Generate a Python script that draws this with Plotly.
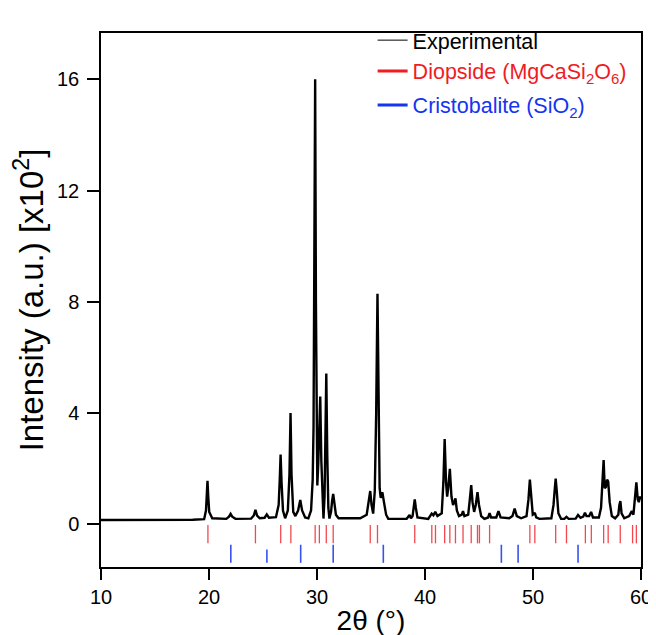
import plotly.graph_objects as go

# Experimental XRD pattern (2theta in degrees, intensity in x10^2 a.u.)
two_theta = [10.0, 14.0, 18.5, 19.55, 19.72, 19.8, 19.86, 19.93, 20.02, 20.3,
             21.6, 21.85, 22.0, 22.15, 22.45, 23.9, 24.15, 24.3, 24.45, 24.7,
             25.15, 25.35, 25.55, 26.2, 26.45, 26.55, 26.63, 26.72, 26.85, 27.05,
             27.3, 27.45, 27.55, 27.64, 27.8, 28.0, 28.25, 28.45, 28.62, 28.9,
             29.2, 29.45, 29.6, 29.68, 29.75, 29.83, 29.9, 29.97, 30.03, 30.12,
             30.22, 30.3, 30.4, 30.5, 30.6, 30.7, 30.78, 30.86, 30.95, 31.05,
             31.15, 31.3, 31.4, 31.5, 31.6, 31.75, 32.0, 34.0, 34.6, 34.8,
             34.93, 35.05, 35.2, 35.35, 35.48, 35.6, 35.7, 35.8, 35.9, 36.05,
             36.2, 36.4, 36.6, 38.3, 38.5, 38.57, 38.7, 38.85, 38.95, 39.05,
             39.15, 39.3, 40.3, 40.5, 40.62, 40.78, 40.95, 41.15, 41.55, 41.7,
             41.82, 41.95, 42.05, 42.15, 42.3, 42.45, 42.6, 42.72, 42.82, 42.95,
             43.15, 43.4, 43.52, 43.65, 44.0, 44.15, 44.28, 44.4, 44.55, 44.7,
             44.86, 45.0, 45.2, 45.5, 45.85, 45.98, 46.12, 46.6, 46.8, 47.0,
             47.8, 48.1, 48.3, 48.5, 48.9, 49.4, 49.58, 49.71, 49.84, 49.98,
             50.1, 50.17, 50.3, 50.6, 51.7, 51.9, 52.02, 52.1, 52.2, 52.35,
             52.6, 52.9, 53.1, 53.3, 53.95, 54.17, 54.4, 54.65, 54.81, 54.95,
             55.2, 55.38, 55.55, 56.1, 56.3, 56.44, 56.54, 56.64, 56.75, 56.86,
             56.96, 57.1, 57.3, 57.6, 57.9, 58.0, 58.09, 58.2, 58.45, 58.9,
             59.05, 59.15, 59.3, 59.45, 59.57, 59.7, 59.8, 59.9, 60.0]
intensity = [0.16, 0.16, 0.17, 0.19, 0.5, 1.1, 1.57, 1.0, 0.45, 0.22,
             0.2, 0.28, 0.38, 0.28, 0.2, 0.21, 0.32, 0.52, 0.32, 0.22,
             0.24, 0.36, 0.24, 0.26, 0.7, 1.6, 2.51, 1.5, 0.5, 0.22,
             0.5, 1.8, 4.0, 1.8, 0.45, 0.3, 0.5, 0.88, 0.5, 0.25,
             0.22, 0.5, 1.6, 3.5, 9.0, 16.0, 8.0, 2.5, 1.4, 2.2,
             3.6, 4.6, 2.3, 0.8, 0.21, 1.0, 3.0, 5.42, 2.5, 0.6,
             0.21, 0.45, 0.85, 1.1, 0.8, 0.35, 0.22, 0.22, 0.35, 0.8,
             1.2, 0.7, 0.39, 1.2, 4.0, 8.29, 4.5, 1.3, 0.95, 1.16,
             0.8, 0.35, 0.2, 0.2, 0.3, 0.34, 0.22, 0.3, 0.6, 0.9,
             0.6, 0.25, 0.2, 0.3, 0.39, 0.33, 0.45, 0.3, 0.4, 1.5,
             3.07, 1.5, 1.0, 1.3, 2.0, 1.0, 0.7, 0.8, 0.94, 0.5,
             0.3, 0.35, 0.48, 0.3, 0.35, 0.9, 1.41, 0.8, 0.45, 0.7,
             1.16, 0.7, 0.3, 0.2, 0.25, 0.41, 0.25, 0.25, 0.48, 0.25,
             0.22, 0.3, 0.57, 0.3, 0.22, 0.3, 0.9, 1.61, 0.9, 0.35,
             0.38, 0.42, 0.25, 0.2, 0.22, 0.7, 1.3, 1.65, 1.2, 0.4,
             0.2, 0.2, 0.27, 0.2, 0.21, 0.34, 0.24, 0.28, 0.42, 0.3,
             0.3, 0.45, 0.25, 0.25, 0.6, 1.6, 2.31, 1.3, 1.35, 1.61,
             1.55, 0.8, 0.3, 0.22, 0.35, 0.7, 0.84, 0.4, 0.22, 0.3,
             0.4, 0.48, 0.35, 0.9, 1.51, 0.9, 0.8, 1.0, 0.9]

# Reference reflection positions (2theta, degrees)
diopside_pos = [19.9, 24.3, 26.64, 27.58, 29.83, 30.22, 30.86, 31.5, 34.93, 35.6,
                39.05, 40.63, 40.97, 41.82, 42.3, 42.82, 43.52, 44.28, 44.86, 45.04,
                45.98, 49.71, 50.17, 52.1, 53.1, 54.85, 55.4, 56.54, 56.96, 58.08,
                59.22, 59.57]
cristobalite_pos = [22.02, 25.36, 28.49, 31.5, 36.14, 47.07, 48.62, 54.17]
cristobalite_top = [-0.73, -0.9, -0.73, -0.73, -0.73, -0.73, -0.73, -0.73]

x_ticks = [10, 20, 30, 40, 50, 60]
y_ticks = [0, 4, 8, 12, 16]

FONT = "Liberation Sans, Arial, sans-serif"
RED = "#f01c24"
BLUE = "#1434f0"

def stick_xy(positions, tops, bottom):
    xs, ys = [], []
    for p, t in zip(positions, tops):
        xs += [p, p, None]
        ys += [t, bottom, None]
    return xs, ys

fig = go.Figure()

fig.add_trace(go.Scatter(x=two_theta, y=intensity, mode="lines",
                         line=dict(color="black", width=2.4), showlegend=False,
                         hoverinfo="skip"))

dx, dy = stick_xy(diopside_pos, [-0.02] * len(diopside_pos), -0.68)
fig.add_trace(go.Scatter(x=dx, y=dy, mode="lines", line=dict(color=RED, width=1.3),
                         opacity=0.8, showlegend=False, hoverinfo="skip"))
cx, cy = stick_xy(cristobalite_pos, cristobalite_top, -1.38)
fig.add_trace(go.Scatter(x=cx, y=cy, mode="lines", line=dict(color=BLUE, width=1.6),
                         opacity=0.85, showlegend=False, hoverinfo="skip"))

# legend entries
fig.add_trace(go.Scatter(x=[None], y=[None], mode="lines", line=dict(color="black", width=1),
                         name="Experimental", legendgroup="a"))
fig.add_trace(go.Scatter(x=[None], y=[None], mode="lines", line=dict(color=RED, width=3),
                         name=f'<span style="color:{RED}">Diopside (MgCaSi<sub>2</sub>O<sub>6</sub>)</span>',
                         legendgroup="a"))
fig.add_trace(go.Scatter(x=[None], y=[None], mode="lines", line=dict(color=BLUE, width=3),
                         name=f'<span style="color:{BLUE}">Cristobalite (SiO<sub>2</sub>)</span>',
                         legendgroup="b"))

fig.update_layout(
    width=656, height=635,
    margin=dict(l=93, r=14, t=23, b=69),
    paper_bgcolor="white", plot_bgcolor="white",
    font=dict(family=FONT, color="black"),
    legend=dict(x=0.503, y=1.025, xanchor="left", yanchor="top",
                bgcolor="rgba(0,0,0,0)", font=dict(size=21.5, family=FONT),
                tracegroupgap=3, itemwidth=30),
    xaxis=dict(range=[10, 60], tickvals=x_ticks, ticks="outside", ticklen=11,
               tickwidth=1.5, tickcolor="black", showline=True, linecolor="black",
               linewidth=1.5, mirror=True, showgrid=False, zeroline=False,
               tickfont=dict(size=20, family=FONT),
               title=dict(text="2θ (°)", font=dict(size=28, family=FONT), standoff=4)),
    yaxis=dict(range=[-1.53, 17.66], tickvals=y_ticks, ticks="outside", ticklen=12,
               tickwidth=1.5, tickcolor="black", showline=True, linecolor="black",
               linewidth=1.5, mirror=True, showgrid=False, zeroline=False,
               tickfont=dict(size=20, family=FONT), ticklabelstandoff=4,
               title=dict(text="Intensity (a.u.) [x10<sup>2</sup>]",
                          font=dict(size=33, family=FONT), standoff=6)),
)

fig.write_html("out.html")
